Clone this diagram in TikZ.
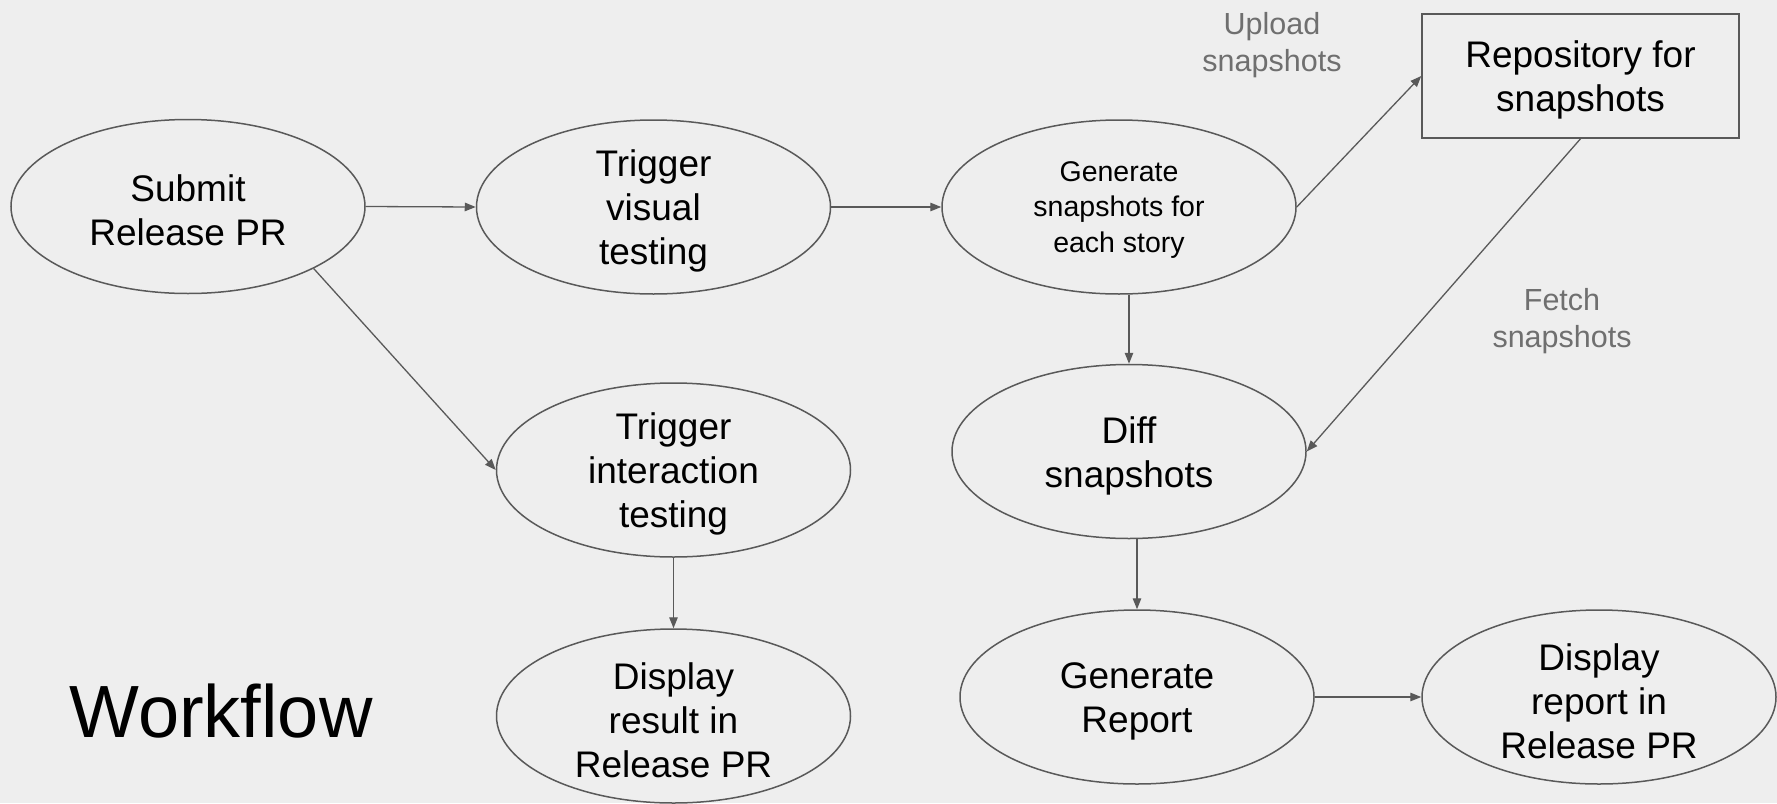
\documentclass[tikz,border=0pt]{standalone}
\usepackage{fontspec}
\setmainfont{Liberation Sans}
\usetikzlibrary{shapes.geometric,arrows.meta}
\definecolor{bg}{HTML}{EEEEEE}
\definecolor{edge}{HTML}{595959}
\definecolor{lbl}{HTML}{6F6F6F}
\tikzset{
  ell/.style={ellipse, draw=edge, line width=1.5pt, inner sep=0pt, minimum width=354pt, minimum height=174pt},
  box/.style={rectangle, draw=edge, line width=1.5pt, inner sep=0pt, minimum width=317pt, minimum height=124pt},
  big/.style={align=center, inner sep=0pt, yshift=-4pt, font=\fontsize{37}{44}\selectfont},
  mid/.style={align=center, inner sep=0pt, yshift=-3pt, font=\fontsize{28.5}{35.5}\selectfont},
  lab/.style={align=center, inner sep=0pt, text=lbl, font=\fontsize{30.5}{37}\selectfont},
  conn/.style={draw=edge, line width=1.3pt, -{Triangle[length=11pt,width=8.5pt]}}
}
\begin{document}
\begin{tikzpicture}[x=1pt,y=-1pt]
\fill[bg] (0,0) rectangle (1777,803);
\useasboundingbox (0,0) rectangle (1777,803);

\node[ell, label={[big]center:{Submit\\Release PR}}] (submit) at (188,206.5) {};
\node[ell, label={[big]center:{Trigger\\visual\\testing}}] (tv) at (653.5,207) {};
\node[ell, label={[mid]center:{Generate\\snapshots for\\each story}}] (gen) at (1119,207) {};
\node[box, label={[big]center:{Repository for\\snapshots}}] (repo) at (1580.5,76) {};
\node[ell, label={[big]center:{Trigger\\interaction\\testing}}] (ti) at (673.5,470) {};
\node[ell, label={[big]center:{Diff\\snapshots}}] (diff) at (1129,451.5) {};
\node[ell, label={[big]center:{Display\\result in\\Release PR}}] (dr) at (673.5,716) {};
\node[ell, label={[big]center:{Generate\\Report}}] (report) at (1137,697) {};
\node[ell, label={[big]center:{Display\\report in\\Release PR}}] (disp) at (1599,697) {};

\node[lab] (up) at (1272,45) {Upload\\snapshots};
\node[lab] (fetch) at (1562,321) {Fetch\\snapshots};
\node[inner sep=0pt, anchor=base, font=\fontsize{74}{80}\selectfont] (wf) at (221,737) {Workflow};

\draw[conn] (submit.east) -- (tv.west);
\draw[conn] (tv.east) -- (gen.west);
\draw[conn] (gen.east) -- (repo.west);
\draw[conn] (repo.south) -- (diff.east);
\draw[conn] (diff.north |- gen.south) -- (diff.north);
\draw[conn] (report.north |- diff.south) -- (report.north);
\draw[conn] (report.east) -- (disp.west);
\draw[conn] (submit.south east) -- (ti.west);
\draw[conn] (ti.south) -- (dr.north);
\end{tikzpicture}
\end{document}
